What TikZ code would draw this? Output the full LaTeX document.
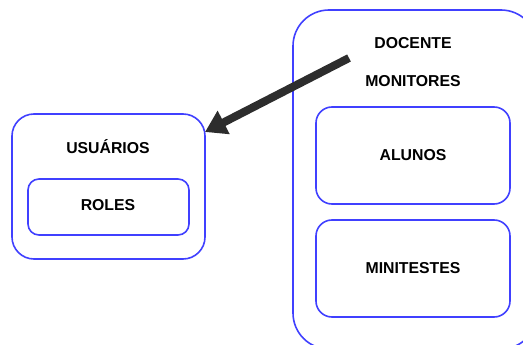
\documentclass[tikz,border=0pt]{standalone}
\usepackage{fontspec}
\setmainfont{Liberation Sans}
\usetikzlibrary{arrows.meta}
\definecolor{boxblue}{RGB}{64,64,255}
\definecolor{arrowgray}{RGB}{45,45,45}
\tikzset{
  box/.style={draw=boxblue, line width=1.6pt, rounded corners=#1},
  lbl/.style={font=\bfseries\fontsize{15.8}{18}\selectfont, text=black, inner sep=0pt},
  bigarrow/.style={draw=arrowgray, line width=8pt, -{Triangle[length=21pt,width=25pt]}}
}
\begin{document}
\begin{tikzpicture}[x=1pt,y=-1pt]
\useasboundingbox (0,0) rectangle (523,345);
\begin{scope}
\clip (0,0) rectangle (523,345);
% big container (extends beyond the frame)
\draw[box=36pt] (293,10) rectangle (537,349);
\node[lbl] (docente) at (413,43) {DOCENTE};
\node[lbl] (monitores) at (413,81) {MONITORES};
\draw[box=16pt] (316,107) rectangle (510,204);
\node[lbl] (alunos) at (413,155) {ALUNOS};
\draw[box=16pt] (316,220) rectangle (510,317);
\node[lbl] (minitestes) at (413,268) {MINITESTES};
% left container
\draw[box=22pt] (12,114) rectangle (205,259);
\node[lbl] (usuarios) at (108,147) {USUÁRIOS};
\draw[box=11pt] (28,179) rectangle (189,235);
\node[lbl] (roles) at (108,205) {ROLES};
% arrow
\coordinate (arrstart) at (349,58);
\coordinate (arrend) at (205,132);
\draw[bigarrow] (arrstart) -- (arrend);
\end{scope}
\end{tikzpicture}
\end{document}
